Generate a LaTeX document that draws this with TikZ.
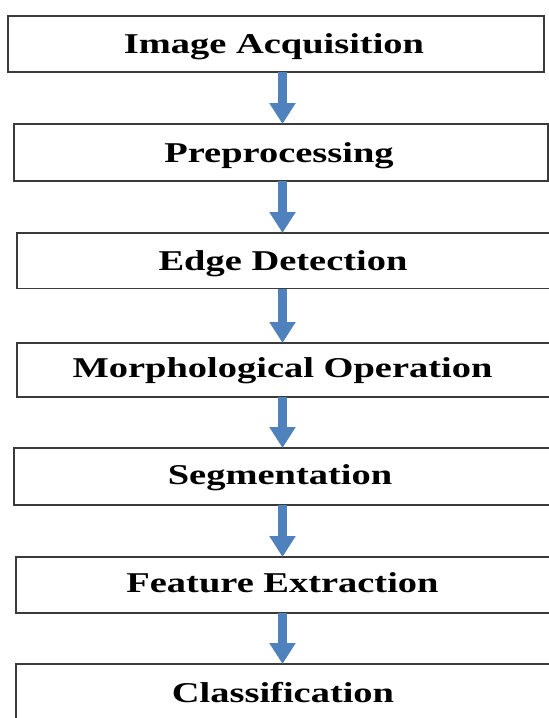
\documentclass[tikz,border=0pt]{standalone}
\usepackage{fontspec}
\setmainfont{Liberation Serif}
\newfontfamily\stepfont[FakeStretch=1.34]{Liberation Serif Bold}
\usetikzlibrary{arrows.meta}

\definecolor{flowblue}{HTML}{4F81BD}
\definecolor{boxline}{HTML}{3A3A3A}

\tikzset{
  stepbox/.style={draw=boxline, line width=1.8pt, fill=white, rectangle,
                  inner sep=0pt, outer sep=0pt},
  steplabel/.style={anchor=base, inner sep=0pt, text=black,
                    font=\stepfont\fontsize{28.7pt}{30pt}\selectfont},
  flow/.style={draw=flowblue, line width=9pt,
               -{Triangle[width=25pt, length=21pt, fill=flowblue]}}
}

\begin{document}
\begin{tikzpicture}[x=1pt, y=-1pt]
  \useasboundingbox (0,0) rectangle (549,718);
  \clip (0,0) rectangle (549,718);

  % column of the connecting arrows
  \coordinate (ax) at (282.5,0);

  % process boxes
  \node[stepbox, minimum width=536pt, minimum height=56pt] (acq)  at (276,44) {};
  \node[stepbox, minimum width=534pt, minimum height=57pt] (pre)  at (281,152.5) {};
  \node[stepbox, minimum width=543pt, minimum height=55.5pt] (edge) at (288.5,260.75) {};
  \node[stepbox, minimum width=543pt, minimum height=54pt] (morph) at (288.5,370) {};
  \node[stepbox, minimum width=546pt, minimum height=57pt] (seg)  at (287,476.5) {};
  \node[stepbox, minimum width=544pt, minimum height=56pt] (feat) at (288,585) {};
  \node[stepbox, minimum width=544pt, minimum height=58pt] (cls)  at (288,693) {};

  % box captions
  \node[steplabel] (tacq)   at (274,53)    {Image Acquisition};
  \node[steplabel] (tpre)   at (279,162)   {Preprocessing};
  \node[steplabel] (tedge)  at (283,270)   {Edge Detection};
  \node[steplabel] (tmorph) at (282.5,377) {Morphological Operation};
  \node[steplabel] (tseg)   at (280,484)   {Segmentation};
  \node[steplabel] (tfeat)  at (282.5,592) {Feature Extraction};
  \node[steplabel] (tcls)   at (283,702)   {Classification};

  % arrows between the stages
  \draw[flow] (acq.south -| ax)   -- (pre.north -| ax);
  \draw[flow] (pre.south -| ax)   -- (edge.north -| ax);
  \draw[flow] (edge.south -| ax)  -- (morph.north -| ax);
  \draw[flow] (morph.south -| ax) -- (seg.north -| ax);
  \draw[flow] (seg.south -| ax)   -- (feat.north -| ax);
  \draw[flow] (feat.south -| ax)  -- (cls.north -| ax);
\end{tikzpicture}
\end{document}
